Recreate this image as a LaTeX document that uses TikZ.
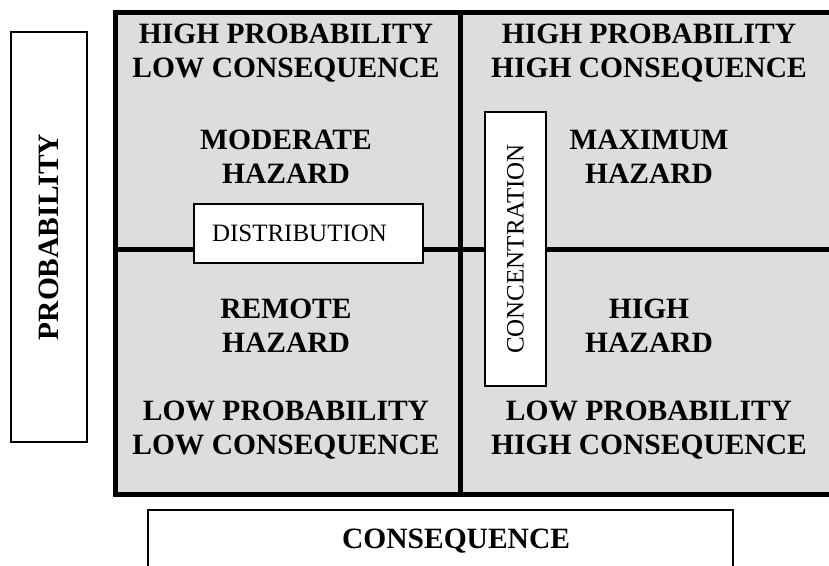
\documentclass[tikz,border=0pt]{standalone}
\usepackage{fontspec}
\setmainfont{Liberation Serif}
\definecolor{cellgrey}{RGB}{221,221,221}

\begin{document}
\begin{tikzpicture}[x=1pt,y=-1pt,
    hd/.style={align=center,font=\fontsize{29.5}{34.5}\selectfont\bfseries},
    tag/.style={draw,fill=white,line width=1.2pt,inner sep=0,font=\fontsize{25}{30}\selectfont},
    ax/.style={draw,line width=1.2pt,inner sep=0,font=\fontsize{29.5}{34.5}\selectfont\bfseries}]
  \useasboundingbox (0,0) rectangle (829,565);
  % the four cells
  \fill[cellgrey] (115,12) rectangle (840,494);
  \draw[line width=5pt] (115,12) rectangle (840,494) (460,12) -- (460,494) (115,249) -- (840,249);
  \node[hd] (tlhead) at (286,53) {HIGH PROBABILITY\\LOW CONSEQUENCE};
  \node[hd] (trhead) at (649,53) {HIGH PROBABILITY\\HIGH CONSEQUENCE};
  \node[hd] (tlhaz) at (286,157) {MODERATE\\HAZARD};
  \node[hd] (trhaz) at (649,157) {MAXIMUM\\HAZARD};
  \node[hd] (blhaz) at (286,326) {REMOTE\\HAZARD};
  \node[hd] (brhaz) at (649,326) {HIGH\\HAZARD};
  \node[hd] (blhead) at (286,430) {LOW PROBABILITY\\LOW CONSEQUENCE};
  \node[hd] (brhead) at (649,430) {LOW PROBABILITY\\HIGH CONSEQUENCE};
  % boxes over the lines
  \node[tag,minimum height=59pt,inner xsep=18pt,text width=193pt,align=left] (dist) at (308.5,233.5) {DISTRIBUTION};
  \node[tag,rotate=90,minimum width=274pt,minimum height=61pt] (conc) at (515.5,249) {CONCENTRATION};
  % axes
  \node[ax,rotate=90,minimum width=410pt,minimum height=76pt] (prob) at (49,237) {PROBABILITY};
  \node[ax,minimum height=62pt,inner xsep=163pt,text width=259pt,align=right] (cons) at (440.5,541) {CONSEQUENCE};
\end{tikzpicture}
\end{document}
